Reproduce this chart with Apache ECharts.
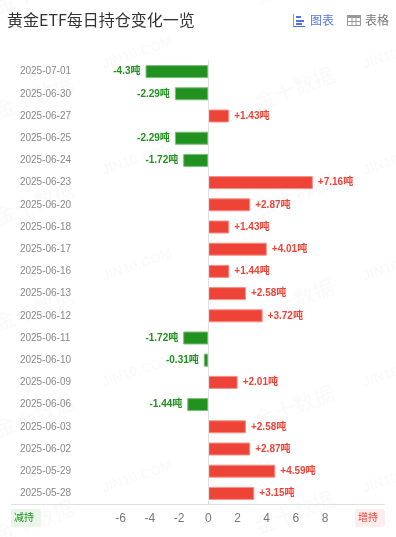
<!DOCTYPE html>
<html>
<head>
<meta charset="utf-8">
<script src="https://cdn.jsdelivr.net/npm/echarts@6/dist/echarts.min.js"></script>
<style>
html, body { margin: 0; padding: 0; background: #fff; }
#chart { width: 396px; height: 537px; }
</style>
</head>
<body>
<div id="chart"></div>
<script>
const dates = ['2025-07-01', '2025-06-30', '2025-06-27', '2025-06-25', '2025-06-24', '2025-06-23', '2025-06-20', '2025-06-18', '2025-06-17', '2025-06-16', '2025-06-13', '2025-06-12', '2025-06-11', '2025-06-10', '2025-06-09', '2025-06-06', '2025-06-03', '2025-06-02', '2025-05-29', '2025-05-28']
const changes = [-4.3, -2.29, 1.43, -2.29, -1.72, 7.16, 2.87, 1.43, 4.01, 1.44, 2.58, 3.72, -1.72, -0.31, 2.01, -1.44, 2.58, 2.87, 4.59, 3.15]
const tickLabels = [-6, -4, -2, 0, 2, 4, 6, 8]

const FONT = '"Noto Sans CJK SC", sans-serif'
const LATIN = 'Arial, "Liberation Sans", sans-serif'
const RED = '#ee4438'
const GREEN = '#21911f'

// 水印
const watermarks = []
for (let row = -1; row < 5; row++) {
  for (const [x, y] of [[-5, 112], [255, 103]]) {
    watermarks.push({
      type: 'text', x, y: y + row * 106, rotation: 0.36, silent: true, z: 0,
      style: { text: '金十数据', font: 'bold 21px ' + FONT, fill: 'rgba(0,0,0,0.02)', verticalAlign: 'middle' }
    })
  }
  for (const x of [102, 363]) {
    watermarks.push({
      type: 'text', x, y: 65 + row * 106, rotation: 0.32, silent: true, z: 0,
      style: { text: 'JIN10.COM', font: 'bold 14px ' + LATIN, fill: 'rgba(0,0,0,0.025)', verticalAlign: 'middle' }
    })
  }
}

// 工具栏图标
const toolbar = [
  { type: 'rect', shape: { x: 293, y: 14, width: 1, height: 13 }, style: { fill: '#c77ee0' } },
  { type: 'rect', shape: { x: 293, y: 26, width: 12, height: 1 }, style: { fill: '#4f6ef0' } },
  { type: 'rect', shape: { x: 296, y: 16, width: 5, height: 2 }, style: { fill: '#4f6ef0' } },
  { type: 'rect', shape: { x: 296, y: 20, width: 8, height: 2 }, style: { fill: '#4f6ef0' } },
  { type: 'rect', shape: { x: 296, y: 23, width: 6, height: 2 }, style: { fill: '#4f6ef0' } },
  { type: 'text', x: 310, y: 20, style: { text: '图表', font: '12px ' + FONT, fill: '#5a78ee', verticalAlign: 'middle' } },
  { type: 'rect', shape: { x: 347.5, y: 15.5, width: 13, height: 10 }, style: { fill: '#fff', stroke: '#999', lineWidth: 1 } },
  { type: 'rect', shape: { x: 347, y: 15, width: 14, height: 3 }, style: { fill: '#999' } },
  { type: 'line', shape: { x1: 352, y1: 16, x2: 352, y2: 26 }, style: { stroke: '#999' } },
  { type: 'line', shape: { x1: 356, y1: 16, x2: 356, y2: 26 }, style: { stroke: '#999' } },
  { type: 'line', shape: { x1: 348, y1: 21.5, x2: 360, y2: 21.5 }, style: { stroke: '#999' } },
  { type: 'text', x: 365, y: 20, style: { text: '表格', font: '12px ' + FONT, fill: '#777', verticalAlign: 'middle' } }
]

// 底部轴线和增减持标签
const footer = [
  { type: 'line', shape: { x1: 11, y1: 504.5, x2: 385, y2: 504.5 }, style: { stroke: '#e0e0e0', lineWidth: 1 } },
  { type: 'rect', shape: { x: 11, y: 509, width: 30, height: 18, r: 3 }, style: { fill: '#eaf6ea' } },
  { type: 'text', x: 24, y: 517, style: { text: '减持', font: '10px ' + FONT, fill: GREEN, align: 'center', verticalAlign: 'middle' } },
  { type: 'rect', shape: { x: 355, y: 509, width: 30, height: 18, r: 3 }, style: { fill: '#fdeeee' } },
  { type: 'text', x: 368, y: 517, style: { text: '增持', font: '10px ' + FONT, fill: RED, align: 'center', verticalAlign: 'middle' } }
]

const chart = echarts.init(document.getElementById('chart'))
chart.setOption({
  animation: false,
  title: {
    text: '黄金ETF每日持仓变化一览',
    left: 2,
    top: 7,
    textStyle: { fontFamily: FONT, fontSize: 16, fontWeight: 'normal', color: '#333' }
  },
  grid: { left: 3.9, right: 12.5, top: 60.5, bottom: 32.5 },
  xAxis: {
    type: 'value',
    min: -14,
    max: 12,
    interval: 2,
    axisLine: { show: false },
    axisTick: { show: false },
    splitLine: { show: false },
    axisLabel: { customValues: tickLabels, color: '#777', fontSize: 12, margin: 8, fontFamily: LATIN }
  },
  yAxis: {
    type: 'category',
    inverse: true,
    data: dates,
    axisLine: { show: false, onZero: false },
    axisTick: { show: false },
    axisLabel: { inside: true, margin: 16, interval: 0, color: '#888', fontSize: 10, fontFamily: LATIN }
  },
  series: [{
    type: 'bar',
    barWidth: 13,
    z: 3,
    // 数值标签，正负颜色和方向不同
    data: changes.map(v => ({
      value: v,
      itemStyle: {
        color: v < 0 ? GREEN : RED,
        borderColor: v < 0 ? '#7dbd7c' : '#f79089',
        borderWidth: 1
      },
      label: {
        show: true,
        position: v < 0 ? 'left' : 'right',
        distance: 5,
        formatter: (v > 0 ? '+' : '') + v + '吨',
        color: v < 0 ? GREEN : RED,
        fontSize: 10,
        fontWeight: 'bold',
        fontFamily: LATIN + ', ' + FONT
      }
    })),
    markLine: {
      silent: true,
      symbol: 'none',
      label: { show: false },
      lineStyle: { color: '#e0e0e0', width: 1, type: 'solid' },
      data: [{ xAxis: 0 }]
    }
  }],
  graphic: watermarks.concat(toolbar, footer)
})
</script>
</body>
</html>
